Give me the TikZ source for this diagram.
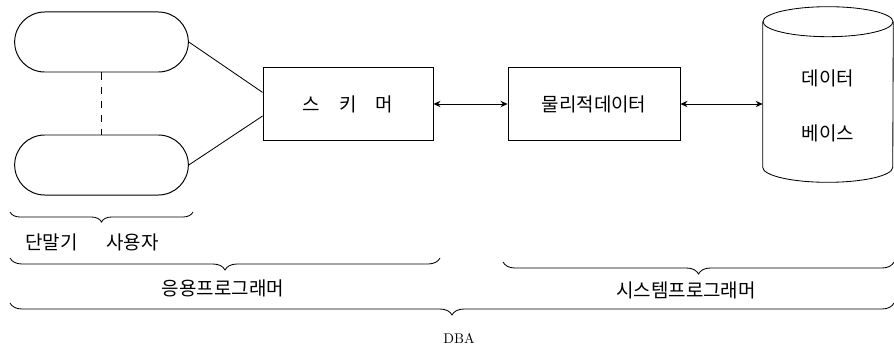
\documentclass[tikz,border=0pt]{standalone}
\usepackage{fontspec}
\newfontfamily\kr{Noto Sans CJK KR}
\usetikzlibrary{positioning,shapes.misc,decorations.pathreplacing,arrows.meta}

\begin{document}
\begin{tikzpicture}[x=0.025cm, y=-0.025cm,
    terminal/.style={rounded rectangle, draw, line width=0.7pt, minimum width=4.575cm, minimum height=1.5cm},
    block/.style={rectangle, draw, line width=0.6pt, minimum width=4.3cm, minimum height=1.83cm, font=\kr\fontsize{13.5}{16}\selectfont},
    grouptext/.style={font=\kr\fontsize{13.5}{16}\selectfont},
    brace/.style={decorate, decoration={brace, mirror, amplitude=0.3cm}, line width=0.6pt},
    link/.style={line width=0.6pt},
    exchange/.style={{Stealth[length=5pt,width=4.5pt]}-{Stealth[length=5pt,width=4.5pt]}, line width=0.6pt}
]
\useasboundingbox (0,0) rectangle (894,348);

% Terminals
\node[terminal] (term1) at (101.5,42) {};
\node[terminal] (term2) at (101.5,165) {};
\draw[link, dash pattern=on 5pt off 5pt] (term1.south) -- (term2.north);

% Blocks
\node[block, minimum width=4.25cm] (schema) at (348,104) {스\quad 키\quad 머};
\node[block] (phys) at (594,104) {물리적데이터};

% Database
\node[minimum width=3.25cm, minimum height=3.625cm, inner sep=0pt] (db) at (828,94.5) {};
\draw[link] (db.north west) -- (db.south west)
    arc[start angle=180, end angle=360, x radius=1.625cm, y radius=0.375cm] -- (db.north east);
\draw[link] (db.north) ellipse[x radius=1.625cm, y radius=0.375cm];
\node[grouptext] (dbtop) at (828,78) {데이터};
\node[grouptext] (dbbot) at (828,133) {베이스};

% Connections
\draw[link] (term1.east) -- ([yshift=0.29cm]schema.west);
\draw[link] (term2.east) -- ([yshift=-0.3cm]schema.west);
\draw[exchange] (schema.east) -- (phys.west);
\draw[exchange] (phys.east) -- (phys.east -| db.west);

% Braces
\draw[brace, decoration={amplitude=0.25cm}] (10,212) -- (193,212);
\node[grouptext] (users) at (92,242) {단말기\hspace{1.5em}사용자};
\draw[brace] (10,258) -- (440,258);
\node[grouptext] (appprog) at (223,288) {응용프로그래머};
\draw[brace] (503,262) -- (894,262);
\node[grouptext] (sysprog) at (686,290) {시스템프로그래머};
\draw[brace] (10,303) -- (894,303);
\node (dba) at (459,338) {DBA};

\end{tikzpicture}
\end{document}
